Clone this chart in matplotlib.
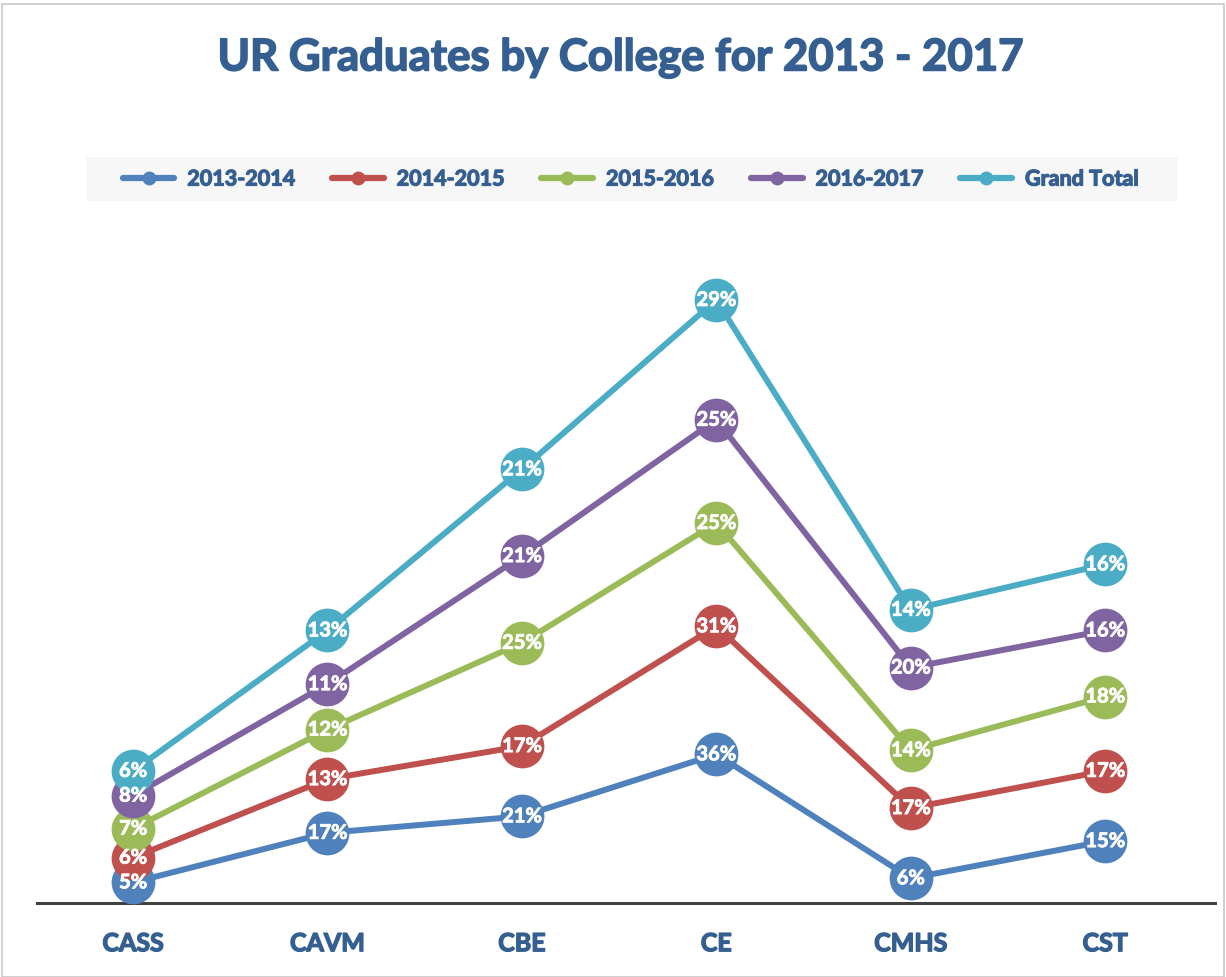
import numpy as np
import matplotlib
matplotlib.use("Agg")
import matplotlib.pyplot as plt
import matplotlib.patheffects as pe
from matplotlib.lines import Line2D
from matplotlib.patches import Rectangle

colleges = ["CASS", "CAVM", "CBE", "CE", "CMHS", "CST"]
series_names = ["2013-2014", "2014-2015", "2015-2016", "2016-2017", "Grand Total"]
y2013 = [5, 17, 21, 36, 6, 15]
y2014 = [6, 13, 17, 31, 17, 17]
y2015 = [7, 12, 25, 25, 14, 18]
y2016 = [8, 11, 21, 25, 20, 16]
ytotal = [6, 13, 21, 29, 14, 16]

COLORS = ["#4F81BD", "#C0504D", "#9BBB59", "#8064A2", "#4BACC6"]
TXT = "#365F91"
FONT = "Lato"

plt.rcParams["font.family"] = [FONT, "DejaVu Sans"]


def thick(color, w=0.8):
    # Lato bold is a bit lighter than the original Calibri bold
    return [pe.withStroke(linewidth=w, foreground=color)]


fig = plt.figure(figsize=(12.26, 9.77), dpi=100)
fig.patches.append(Rectangle((0.002, 0.0), 0.996, 0.996, transform=fig.transFigure,
                             fill=False, edgecolor="#C8C8C8", linewidth=1.2))
# legend band
fig.patches.append(Rectangle((0.0701, 0.7943), 0.8907, 0.045, transform=fig.transFigure,
                             facecolor="#F7F7F7", edgecolor="none", zorder=0))

ax = fig.add_axes([0.0302, 0.0757, 0.961, 0.6786])
x = np.arange(len(colleges))
# stacked line chart: each series sits on top of the previous ones
stack = np.zeros(len(colleges))
for i, (name, vals) in enumerate(zip(series_names, [y2013, y2014, y2015, y2016, ytotal])):
    stack = stack + np.array(vals)
    ax.plot(x, stack, color=COLORS[i], linewidth=4.3, marker="o", markersize=31.5,
            markeredgewidth=0, solid_capstyle="round", zorder=2 + i, clip_on=False)
    for xi, yi, v in zip(x, stack, vals):
        ax.text(xi, yi, f"{v}%", color="white", fontsize=14.5, fontweight="bold",
                ha="center", va="center", zorder=20, path_effects=thick("white", 0.6))

ax.set_xlim(-0.494, 5.566)
ax.set_ylim(0, 160.5)
ax.set_yticks([])
ax.set_xticks(x)
ax.set_xticklabels(colleges, fontsize=18, fontweight="bold", color=TXT)
for t in ax.get_xticklabels():
    t.set_path_effects(thick(TXT, 1.0))
ax.tick_params(axis="x", length=0, pad=21)
for s in ["top", "right", "left"]:
    ax.spines[s].set_visible(False)
ax.spines["bottom"].set_color("#404040")
ax.spines["bottom"].set_linewidth(2.2)
ax.spines["bottom"].set_zorder(1)

fig.text(0.506, 0.941, "UR Graduates by College for 2013 - 2017", ha="center", va="center",
         fontsize=31.5, fontweight="bold", color=TXT, path_effects=thick(TXT, 1.2))

handles = [Line2D([0], [0], color=c, linewidth=4.5, marker="o", markersize=9,
                  solid_capstyle="round") for c in COLORS]
leg = fig.legend(handles, series_names, loc="center", bbox_to_anchor=(0.5145, 0.8168), ncol=5,
                 frameon=False, handlelength=2.4, handletextpad=0.6, columnspacing=1.72,
                 borderpad=0.7, borderaxespad=0,
                 prop={"family": FONT, "weight": "bold", "size": 15.5})
for t in leg.get_texts():
    t.set_color(TXT)
    t.set_path_effects(thick(TXT, 0.9))

fig.savefig("out.png", dpi=100, facecolor="white")
